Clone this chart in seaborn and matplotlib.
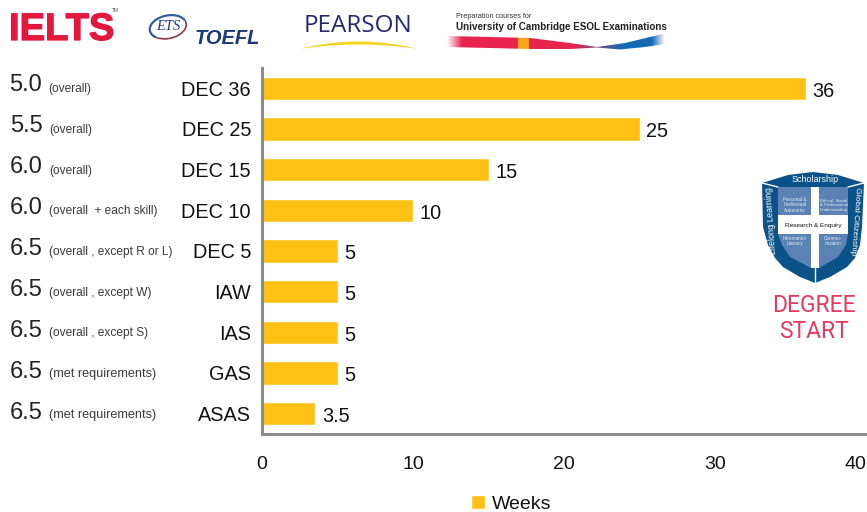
import numpy as np
import pandas as pd
import matplotlib.pyplot as plt
import matplotlib.patheffects as pe
import seaborn as sns
from matplotlib.colors import LinearSegmentedColormap
from matplotlib.patches import Polygon, Rectangle, Arc

# chart data
codes = ['DEC 36', 'DEC 25', 'DEC 15', 'DEC 10', 'DEC 5', 'IAW', 'IAS', 'GAS', 'ASAS']
weeks = [36, 25, 15, 10, 5, 5, 5, 5, 3.5]
week_labels = ['36', '25', '15', '10', '5', '5', '5', '5', '3.5']
scores = ['5.0', '5.5', '6.0', '6.0', '6.5', '6.5', '6.5', '6.5', '6.5']
notes = ['(overall)', '(overall)', '(overall)', '(overall  + each skill)',
         '(overall , except R or L)', '(overall , except W)', '(overall , except S)',
         '(met requirements)', '(met requirements)']
x_ticks = [0, 10, 20, 30, 40]

df = pd.DataFrame({'code': codes, 'weeks': weeks})

sns.set_theme(style="white")
plt.rcParams['font.family'] = ['Liberation Sans', 'DejaVu Sans']
W, H = 867, 512
fig = plt.figure(figsize=(W / 100, H / 100), dpi=100)

# main bars
ax = fig.add_axes([262 / W, 1 - 434 / H, (866 - 262) / W, (434 - 68) / H])
sns.barplot(data=df, y='code', x='weeks', color='#FFC114', saturation=1, width=0.57,
            label='Weeks', ax=ax)
ax.set_xlim(0, 40)
ax.set_xlabel('')
ax.set_ylabel('')
ax.set_xticks(x_ticks)
ax.tick_params(axis='x', length=0, pad=15.5, labelsize=14, labelcolor='#111111')
ax.tick_params(axis='y', length=0, pad=8, labelsize=14.3, labelcolor='#111111')
ax.get_xticklabels()[-1].set_ha('right')
sns.despine(ax=ax)
for side in ['left', 'bottom']:
    ax.spines[side].set_color('#8C8C8C')
    ax.spines[side].set_linewidth(2.2)
for t in ax.bar_label(ax.containers[0], labels=week_labels, padding=5, fontsize=14.3, color='#111111'):
    t.xyann = (5, -2)
ax.legend(loc='center', bbox_to_anchor=(511 / W, 1 - 504 / H), bbox_transform=fig.transFigure,
          frameon=False, fontsize=14, handlelength=0.75, handleheight=0.75, handletextpad=0.35,
          labelcolor='#111111')

# overlay in pixel coordinates for the side texts and logos
ov = fig.add_axes([0, 0, 1, 1])
ov.patch.set_alpha(0)

score_y = [84, 125, 166, 207, 248, 289, 330, 371, 412]
note_y = [88, 129, 170, 210, 251, 292, 332, 373, 414]
for i in range(len(scores)):
    ov.text(9 if i == 0 else 10, score_y[i] + 1, scores[i], fontsize=17, color='#222222', va='center')
    ov.text(48 if i == 0 else 49, note_y[i] + 1, notes[i], fontsize=9.1 if 'met' in notes[i] else 8.6,
            color='#3A3A3A', va='center')

# IELTS
ov.text(9, 30, 'IELTS', fontsize=27.5, fontweight='bold', color='#E4173E', va='center',
        path_effects=[pe.withStroke(linewidth=0.9, foreground='#E4173E')])
ov.text(112, 11, 'TM', fontsize=3.6, color='#555555', va='center')

# ETS TOEFL
ov.add_patch(Arc((168, 27), 37, 23, angle=-12, theta1=150, theta2=350, ec='#2E5E9E', lw=1.6))
ov.add_patch(Arc((168, 27), 37, 23, angle=-12, theta1=-10, theta2=150, ec='#8A3A4A', lw=1.2))
ov.text(168, 27, 'ETS', fontsize=10.5, family='Liberation Serif', style='italic', color='#1E3F7E',
        ha='center', va='center')
ov.text(195, 38.5, 'TOEFL', fontsize=14.5, fontweight='bold', style='italic', color='#1A3A73', va='center')

# Pearson
ov.text(304, 26, 'PEARSON', fontsize=17.5, family='Open Sans', color='#27286F', va='center')
sx = np.linspace(302, 416, 30)
top = 41 + 7 * ((sx - 358) / 57) ** 2
bot = 44 + 4.2 * ((sx - 358) / 57) ** 2
ov.fill_between(sx, top, bot, color='#F6D21E', lw=0)

# Cambridge
ov.text(456, 16, 'Preparation courses for', fontsize=5.2, color='#333333', va='center')
ov.text(456, 26.5, 'University of Cambridge ESOL Examinations', fontsize=7.1, fontweight='bold',
        color='#222222', va='center')
stops = [(447, '#FFFFFF'), (462, '#E8244E'), (518, '#E8244E'), (518, '#FAA61A'), (529, '#FAA61A'),
         (529, '#E8244E'), (572, '#E8244E'), (597, '#7A4A80'), (622, '#1469B4'), (652, '#1469B4'),
         (665, '#FFFFFF')]
cmap = LinearSegmentedColormap.from_list('band', [((x - 447) / 218, c) for x, c in stops], N=436)
grad = ov.imshow(np.linspace(0, 1, 436).reshape(1, -1), cmap=cmap, extent=(447, 665, 52, 33), aspect='auto')
band = Polygon([(447, 36), (490, 37), (530, 38), (570, 43), (597, 47), (625, 43), (650, 37), (665, 33.5),
                (665, 44), (645, 47), (620, 49.5), (597, 47.5), (570, 49), (530, 49), (490, 48), (447, 47)],
               fc='none', ec='none', transform=ov.transData)
ov.add_patch(band)
grad.set_clip_path(band)

# shield
outer = [(762, 183), (788, 175), (813, 172), (838, 175), (864, 183), (862, 227), (860, 245), (855, 258),
         (847, 267), (830, 277), (815, 283), (800, 277), (783, 267), (775, 258), (768, 245), (763, 227)]
ov.add_patch(Polygon(outer, fc='#0B5288', ec='none'))
panel = '#5B82B4'
ov.add_patch(Polygon([(778, 187), (811, 187), (811, 215), (778, 215)], fc=panel, ec='none'))
ov.add_patch(Polygon([(819, 187), (848, 187), (848, 215), (819, 215)], fc=panel, ec='none'))
ov.add_patch(Polygon([(778, 234), (811, 234), (811, 268), (790, 257), (782, 245)], fc=panel, ec='none'))
ov.add_patch(Polygon([(819, 234), (848, 234), (846, 245), (838, 257), (819, 268)], fc=panel, ec='none'))
ov.add_patch(Rectangle((778, 215), 70, 19, fc='white', ec='none'))
ov.add_patch(Rectangle((811, 187), 8, 81, fc='white', ec='none'))
ov.plot([762, 778], [183, 187], color='white', lw=1)
ov.plot([864, 848], [183, 187], color='white', lw=1)
ov.plot([815, 815], [268, 283], color='white', lw=1)

ov.text(815, 179, 'Scholarship', fontsize=6.5, color='white', ha='center', va='center')
ov.text(771, 221, 'Lifelong Learning', fontsize=6.2, color='white', ha='center', va='center', rotation=94)
ov.text(855, 221, 'Global Citizenship', fontsize=6, color='white', ha='center', va='center', rotation=-94)
ov.text(813, 225, 'Research & Enquiry', fontsize=4.6, color='#111111', ha='center', va='center')
ov.text(795, 205, 'Personal &\nIntellectual\nAutonomy', fontsize=3.4, color='#E4ECF5', ha='center', va='center')
ov.text(834, 205, 'Ethical, Social\n& Professional\nUnderstanding', fontsize=3.2, color='#E4ECF5', ha='center', va='center')
ov.text(795, 241, 'Information\nLiteracy', fontsize=3.4, color='#E4ECF5', ha='center', va='center')
ov.text(833, 241, 'Commu-\nnication', fontsize=3.4, color='#E4ECF5', ha='center', va='center')

ov.text(814, 305, 'DEGREE', fontsize=16.5, family='Roboto', color='#E8395C', ha='center', va='center')
ov.text(814, 332, 'START', fontsize=16.5, family='Roboto', color='#E8395C', ha='center', va='center')

ov.set_xlim(0, W)
ov.set_ylim(H, 0)
ov.axis('off')

fig.savefig('out.png', dpi=100)
